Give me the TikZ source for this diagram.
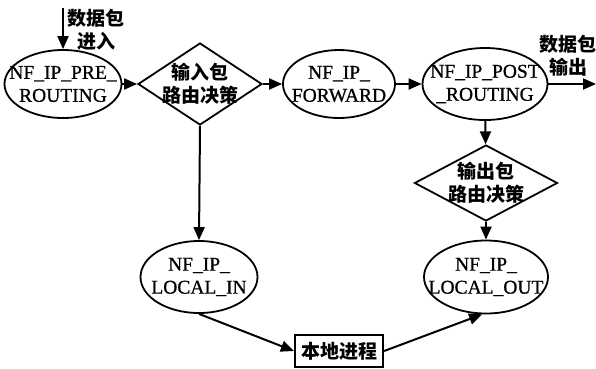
\documentclass[tikz,border=0pt]{standalone}
\usepackage{fontspec}
\setmainfont[FakeBold=0.8]{Liberation Serif}
\newfontfamily\cjk{Noto Sans CJK SC}
\usetikzlibrary{shapes.geometric,arrows.meta}
\tikzset{
  lbl/.style={font=\fontsize{19.5}{23}\selectfont, align=center, inner sep=0pt},
  cn/.style={font=\fontsize{19}{23}\selectfont\cjk\bfseries, align=center, inner sep=0pt},
  hookell/.style={ellipse, draw, line width=1.8pt, inner sep=0pt},
  decide/.style={diamond, draw, line width=1.8pt, inner sep=0pt},
  procbox/.style={rectangle, draw, line width=2.2pt, inner sep=0pt, minimum width=88pt, minimum height=32pt, font=\fontsize{19}{23}\selectfont\cjk\bfseries},
  arr/.style={line width=2pt, -{Triangle[length=13pt,width=11pt]}},
}
\begin{document}
\begin{tikzpicture}[x=1pt,y=1pt]
\useasboundingbox (0,0) rectangle (596,-368);
\node[hookell, minimum width=117pt, minimum height=68pt, label={[lbl]center:NF\_IP\_PRE\_\\ROUTING}] (pre) at (63,-84) {};
\node[decide, minimum width=124pt, minimum height=82pt, label={[cn]center:输入包\\路由决策}] (d1) at (200,-84) {};
\node[hookell, minimum width=112pt, minimum height=68pt, label={[lbl]center:NF\_IP\_\\FORWARD}] (fwd) at (339,-84) {};
\node[hookell, minimum width=125pt, minimum height=72pt, label={[lbl]center:NF\_IP\_POST\\\_ROUTING}] (post) at (485,-84) {};
\node[decide, minimum width=143pt, minimum height=76pt, label={[cn]center:输出包\\路由决策}] (d2) at (486,-183) {};
\node[hookell, minimum width=124pt, minimum height=73pt, label={[lbl]center:NF\_IP\_\\LOCAL\_OUT}] (lout) at (486,-277) {};
\node[hookell, minimum width=117pt, minimum height=72pt, label={[lbl]center:NF\_IP\_\\LOCAL\_IN}] (lin) at (199,-277) {};
\node[procbox] (proc) at (339,-351) {本地进程};
\node[cn] (inlbl) at (96,-30) {数据包\\进入};
\node[cn] (outlbl) at (568,-56) {数据包\\输出};
\coordinate (inTop) at (63,-8);
\coordinate (outEnd) at (596,-84);
\draw[arr] (inTop) -- (pre);
\draw[arr] (pre) -- (d1);
\draw[arr] (d1) -- (fwd);
\draw[arr] (fwd) -- (post);
\draw[arr] (post) -- (outEnd);
\draw[arr] (post) -- (d2);
\draw[arr] (d2) -- (lout);
\draw[arr] (d1.south) -- (lin.north);
\draw[arr] (lin.south) -- (proc.west);
\draw[arr] (proc.east) -- (lout.-96);
\end{tikzpicture}
\end{document}
